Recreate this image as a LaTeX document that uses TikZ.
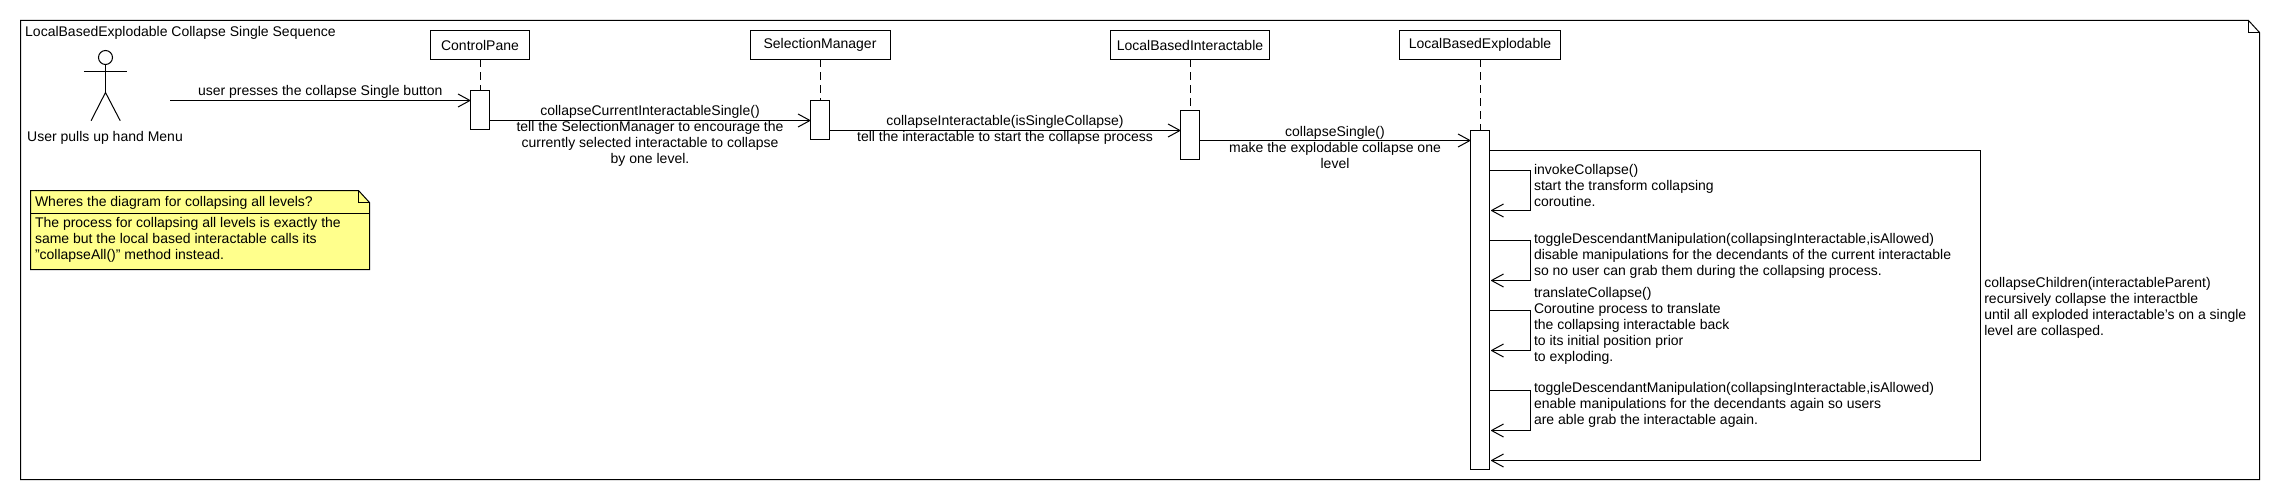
\documentclass[tikz,border=0pt]{standalone}
\usepackage{fontspec}
\setmainfont{Liberation Sans}
\usepackage{tikz}
\usetikzlibrary{positioning,arrows.meta,calc}
\definecolor{notefill}{RGB}{255,255,140}
\pgfarrowsdeclare{openvee}{openvee}
  {\pgfarrowsleftextend{-12pt}\pgfarrowsrightextend{0.5pt}}
  {\pgfsetdash{}{0pt}\pgfsetroundjoin
   \pgfpathmoveto{\pgfpoint{-12pt}{6.5pt}}
   \pgfpathlineto{\pgfpointorigin}
   \pgfpathlineto{\pgfpoint{-12pt}{-6.5pt}}
   \pgfusepathqstroke}
\tikzset{
  seq/.style={x=1pt,y=-1pt,line width=1pt,
    font=\fontsize{14}{16}\selectfont,
    every node/.style={outer sep=0pt}},
  lifebox/.style={rectangle,draw,fill=white,minimum height=29pt,inner sep=0pt},
  actbox/.style={rectangle,draw,fill=white,minimum width=19pt,inner sep=0pt},
  lifeline/.style={dash pattern=on 8pt off 5pt},
  msg/.style={-openvee},
  selfmsg/.style={msg,shorten >=1.5pt},
  msgtext/.style={align=center,inner sep=0pt},
  selftext/.style={align=left,inner sep=0pt,anchor=west},
}
\begin{document}
\begin{tikzpicture}[seq]
  \useasboundingbox (0,0) rectangle (2280,500);
  % frame
  \draw (20.5,20.5) -- (2248.5,20.5) -- (2259.5,32.5) -- (2259.5,479.5) -- (20.5,479.5) -- cycle;
  \draw (2248.5,20.5) -- (2248.5,32.5) -- (2259.5,32.5);
  \node[selftext] (title) at (25.2,33) {LocalBasedExplodable Collapse Single Sequence};

  % actor
  \node[circle,draw,minimum size=14pt,inner sep=0pt] (head) at (105.5,57.5) {};
  \coordinate (hip) at (105.5,92.5);
  \draw (head) -- (hip);
  \draw (83.9,71.5) -- (127,71.5);
  \draw (91.1,120.7) -- (hip) -- (120.2,120.7);
  \node[msgtext] (actorname) at (105,138) {User pulls up hand Menu};
  \coordinate (usr) at (170,100.5);

  % lifelines
  \node[lifebox,minimum width=99pt] (ctl) at (480,45) {ControlPane};
  \node[lifebox,minimum width=140pt] (sel) at (820,45) {SelectionManager};
  \node[lifebox,minimum width=159pt] (lbi) at (1190,45) {LocalBasedInteractable};
  \node[lifebox,minimum width=161pt] (lbe) at (1480,45) {LocalBasedExplodable};
  \node[actbox,minimum height=39pt,below=31pt of ctl] (ctlact) {};
  \node[actbox,minimum height=39pt,below=41pt of sel] (selact) {};
  \node[actbox,minimum height=49pt,below=51pt of lbi] (lbiact) {};
  \node[actbox,minimum height=339pt,below=71pt of lbe] (lbeact) {};
  \draw[lifeline] (ctl) -- (ctlact);
  \draw[lifeline] (sel) -- (selact);
  \draw[lifeline] (lbi) -- (lbiact);
  \draw[lifeline] (lbe) -- (lbeact);

  % messages
  \coordinate (y2) at (0,120.5);
  \coordinate (y3) at (0,130.5);
  \coordinate (y4) at (0,140.5);
  \draw[msg] (usr) -- node[msgtext,yshift=8.8pt] (m1text) {user presses the collapse Single button} (ctlact.west |- usr);
  \draw[msg] (ctlact.east |- y2) -- node[msgtext,yshift=-15.2pt] (m2text) {collapseCurrentInteractableSingle()\\tell the SelectionManager to encourage the\\currently selected interactable to collapse\\by one level.} (selact.west |- y2);
  \draw[msg] (selact.east |- y3) -- node[msgtext,yshift=0.8pt] (m3text) {collapseInteractable(isSingleCollapse)\\tell the interactable to start the collapse process} (lbiact.west |- y3);
  \draw[msg] (lbiact.east |- y4) -- node[msgtext,yshift=-7.2pt] (m4text) {collapseSingle()\\make the explodable collapse one\\level} (lbeact.west |- y4);

  % self calls
  \foreach \ya/\yb in {170.5/210.5,240.5/280.5,310.5/350.5,390.5/430.5}
    \draw[selfmsg] (lbeact.east |- 0,\ya) -- (1530.5,\ya) -- (1530.5,\yb) -- (lbeact.east |- 0,\yb);
  \draw[selfmsg] (lbeact.east |- 0,150.5) -- (1980.5,150.5) -- (1980.5,460.5) -- (lbeact.east |- 0,460.5);
  \node[selftext] (s1text) at (1534,185.5) {invokeCollapse()\\start the transform collapsing\\coroutine.};
  \node[selftext] (s2text) at (1534,255.7) {toggleDescendantManipulation(collapsingInteractable,isAllowed)\\disable manipulations for the decendants of the current interactable\\so no user can grab them during the collapsing process.};
  \node[selftext] (s3text) at (1534,325.4) {translateCollapse()\\Coroutine process to translate\\the collapsing interactable back\\to its initial position prior\\to exploding.};
  \node[selftext] (s4text) at (1534,405.3) {toggleDescendantManipulation(collapsingInteractable,isAllowed)\\enable manipulations for the decendants again so users\\are able grab the interactable again.};
  \node[selftext] (looptext) at (1984.3,308.3) {collapseChildren(interactableParent)\\recursively collapse the interactble\\until all exploded interactable's on a single\\level are collasped.};

  % note
  \draw[fill=notefill] (30.5,190.5) -- (358.5,190.5) -- (369.5,202.5) -- (369.5,269.5) -- (30.5,269.5) -- cycle;
  \draw (358.5,190.5) -- (358.5,202.5) -- (369.5,202.5);
  \draw (30.5,213.5) -- (369.5,213.5);
  \node[selftext] (notehead) at (35,203.3) {Wheres the diagram for collapsing all levels?};
  \node[selftext] (notebody) at (35,240.3) {The process for collapsing all levels is exactly the\\same but the local based interactable calls its\\"collapseAll()" method instead.};
\end{tikzpicture}
\end{document}
